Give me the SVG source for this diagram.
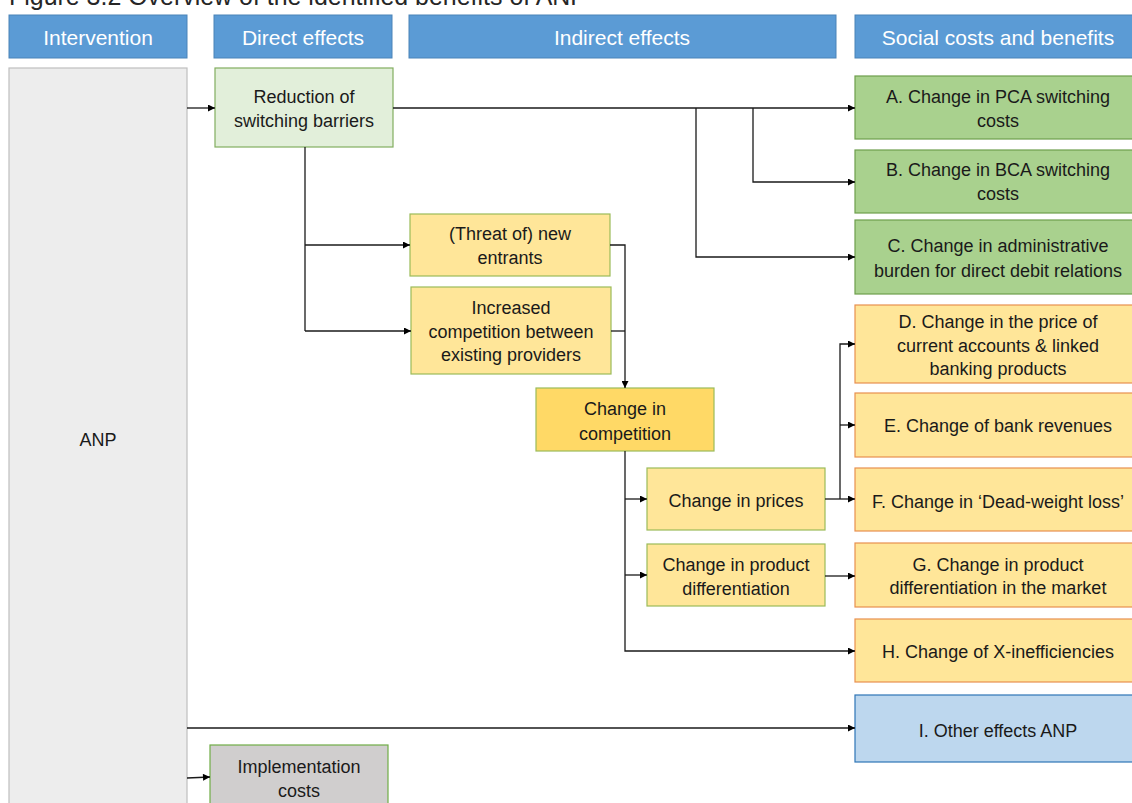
<svg xmlns="http://www.w3.org/2000/svg" width="1132" height="803" viewBox="0 0 1132 803">
<style>
text{font-family:"Liberation Sans",Arial,sans-serif;}
.hdr rect{fill:#5B9BD5;stroke:#4A83B8;stroke-width:1;}
.hdr text{fill:#ffffff;font-size:21px;text-anchor:middle;}
.lbl{fill:#1a1a1a;font-size:18px;text-anchor:middle;}
.grn{fill:#A9D18E;stroke:#6E9E4C;stroke-width:1.2;}
.ylw{fill:#FFE699;stroke:#9BBB59;stroke-width:1.2;}
.org{fill:#FFE699;stroke:#E8904F;stroke-width:1.2;}
.conn path{fill:none;stroke:#1a1a1a;stroke-width:1.3;}
</style>
<defs>
<marker id="arr" viewBox="0 0 10 10" refX="10" refY="5" markerWidth="8" markerHeight="7" markerUnits="userSpaceOnUse" orient="auto">
<path d="M0,0 L10,5 L0,10 Z" fill="#000"/>
</marker>
</defs>
<rect width="1132" height="803" fill="#ffffff"/>
<text x="9" y="5" font-size="25" fill="#262626" textLength="578" lengthAdjust="spacingAndGlyphs">Figure 3.2 Overview of the identified benefits of ANP</text>

<g id="headers">
<g class="hdr" id="h-intervention"><rect x="9" y="15" width="178" height="43"/><text x="98" y="45">Intervention</text></g>
<g class="hdr" id="h-direct"><rect x="214" y="15" width="178" height="43"/><text x="303" y="45">Direct effects</text></g>
<g class="hdr" id="h-indirect"><rect x="409" y="15" width="427" height="43"/><text x="622" y="45">Indirect effects</text></g>
<g class="hdr" id="h-social"><rect x="855" y="15" width="286" height="43"/><text x="998" y="45">Social costs and benefits</text></g>
</g>

<g id="anp"><rect x="9" y="68" width="178" height="745" fill="#EDEDED" stroke="#BFBFBF" stroke-width="1.2"/><text class="lbl" x="98" y="446">ANP</text></g>

<g id="reduction"><rect x="215" y="68" width="178" height="79" fill="#E2EFDA" stroke="#82AD5F" stroke-width="1.2"/><text class="lbl" x="304" y="103">Reduction of</text><text class="lbl" x="304" y="127">switching barriers</text></g>

<g id="threat"><rect class="ylw" x="410" y="214" width="200" height="62"/><text class="lbl" x="510" y="240">(Threat of) new</text><text class="lbl" x="510" y="264">entrants</text></g>
<g id="increased"><rect class="ylw" x="411" y="287" width="200" height="87"/><text class="lbl" x="511" y="314">Increased</text><text class="lbl" x="511" y="338">competition between</text><text class="lbl" x="511" y="361">existing providers</text></g>
<g id="competition"><rect x="536" y="388" width="178" height="63" fill="#FFD966" stroke="#9BBB59" stroke-width="1.2"/><text class="lbl" x="625" y="415">Change in</text><text class="lbl" x="625" y="440">competition</text></g>
<g id="prices"><rect class="ylw" x="647" y="468" width="178" height="62"/><text class="lbl" x="736" y="507">Change in prices</text></g>
<g id="proddiff"><rect class="ylw" x="647" y="544" width="178" height="62"/><text class="lbl" x="736" y="571">Change in product</text><text class="lbl" x="736" y="595">differentiation</text></g>

<g id="A"><rect class="grn" x="855" y="76" width="286" height="63"/><text class="lbl" x="998" y="103">A. Change in PCA switching</text><text class="lbl" x="998" y="127">costs</text></g>
<g id="B"><rect class="grn" x="855" y="150" width="286" height="63"/><text class="lbl" x="998" y="176">B. Change in BCA switching</text><text class="lbl" x="998" y="200">costs</text></g>
<g id="C"><rect class="grn" x="855" y="220" width="286" height="74"/><text class="lbl" x="998" y="252">C. Change in administrative</text><text class="lbl" x="998" y="277">burden for direct debit relations</text></g>
<g id="D"><rect class="org" x="855" y="305" width="286" height="78"/><text class="lbl" x="998" y="328">D. Change in the price of</text><text class="lbl" x="998" y="352">current accounts &amp; linked</text><text class="lbl" x="998" y="375">banking products</text></g>
<g id="E"><rect class="org" x="855" y="393" width="286" height="64"/><text class="lbl" x="998" y="432">E. Change of bank revenues</text></g>
<g id="F"><rect class="org" x="855" y="468" width="286" height="63"/><text class="lbl" x="998" y="508">F. Change in ‘Dead-weight loss’</text></g>
<g id="G"><rect class="org" x="855" y="543" width="286" height="64"/><text class="lbl" x="998" y="571">G. Change in product</text><text class="lbl" x="998" y="594">differentiation in the market</text></g>
<g id="H"><rect class="org" x="855" y="619" width="286" height="63"/><text class="lbl" x="998" y="658">H. Change of X-inefficiencies</text></g>
<g id="I"><rect x="855" y="695" width="286" height="67" fill="#BDD7EE" stroke="#2E75B6" stroke-width="1.2"/><text class="lbl" x="998" y="737">I. Other effects ANP</text></g>
<g id="impl"><rect x="210" y="745" width="178" height="70" fill="#D0CECE" stroke="#70AD47" stroke-width="1.2"/><text class="lbl" x="299" y="773">Implementation</text><text class="lbl" x="299" y="797">costs</text></g>

<g class="conn" id="connectors">
<path d="M187,108 H215" marker-end="url(#arr)"/>
<path d="M393,108 H855" marker-end="url(#arr)"/>
<path d="M753,108 V182 H855" marker-end="url(#arr)"/>
<path d="M696,108 V257 H855" marker-end="url(#arr)"/>
<path d="M305,147 V331"/>
<path d="M305,245 H410" marker-end="url(#arr)"/>
<path d="M305,331 H411" marker-end="url(#arr)"/>
<path d="M610,245 H625 V388" marker-end="url(#arr)"/>
<path d="M611,331 H625"/>
<path d="M625,451 V651 H855" marker-end="url(#arr)"/>
<path d="M625,499 H647" marker-end="url(#arr)"/>
<path d="M625,575 H647" marker-end="url(#arr)"/>
<path d="M825,499 H855" marker-end="url(#arr)"/>
<path d="M840,499 V344 H855" marker-end="url(#arr)"/>
<path d="M840,425 H855" marker-end="url(#arr)"/>
<path d="M825,576 H855" marker-end="url(#arr)"/>
<path d="M187,728 H855" marker-end="url(#arr)"/>
<path d="M187,778 L210,777" marker-end="url(#arr)"/>
</g>
</svg>
